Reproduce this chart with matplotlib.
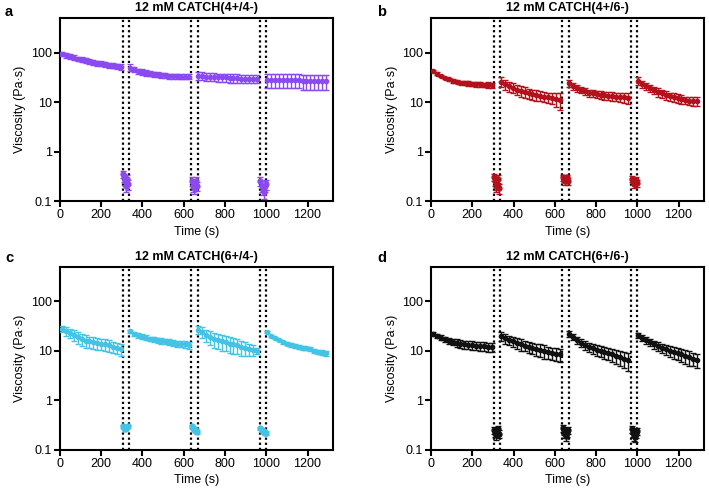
import matplotlib.pyplot as plt
import matplotlib

matplotlib.rcParams["font.family"] = ["Liberation Sans", "DejaVu Sans"]
FONT_SIZE = 9
matplotlib.rcParams.update({"font.size": FONT_SIZE})

# Time grid (s) for the high-viscosity segments and the low-viscosity bursts
t_seg1 = [10, 29, 48, 67, 86, 105, 124, 143, 162, 181, 200, 219, 238, 257, 276, 295]
t_seg2 = [340, 359, 378, 397, 416, 435, 454, 473, 492, 511, 530, 549, 568, 587, 606, 625]
t_seg3 = [670, 689, 708, 727, 746, 765, 784, 803, 822, 841, 860, 879, 898, 917, 936, 955]
t_seg4 = [1005, 1024, 1043, 1062, 1081, 1100, 1119, 1138, 1157, 1176, 1195, 1214, 1233, 1252, 1271, 1290]
t_low1 = [307, 312, 317, 322, 327, 332]
t_low2 = [639, 644, 649, 654, 659, 664]
t_low3 = [972, 977, 982, 987, 992, 997]
shear_lines = [305, 335, 637, 667, 970, 1000]

titles = ["12 mM CATCH(4+/4-)", "12 mM CATCH(4+/6-)", "12 mM CATCH(6+/4-)", "12 mM CATCH(6+/6-)"]
letters = ["a", "b", "c", "d"]
colors = ["#8a4af0", "#b3121c", "#45c3e4", "#111111"]

# Panel a
a_mean = [
    [95, 90, 85, 80, 76, 73, 70, 67, 64, 62, 60, 58, 56, 55, 53, 52],
    [50, 46, 43, 41, 39, 38, 37, 36, 35, 35, 34, 34, 34, 33, 33, 33],
    [34, 34, 33, 33, 33, 32, 32, 32, 31, 31, 31, 30, 30, 30, 30, 30],
    [28, 28, 28, 28, 28, 28, 28, 28, 28, 27, 27, 27, 27, 27, 27, 27],
]
a_err = [
    [10, 10, 9, 9, 8, 8, 8, 7, 7, 7, 7, 6, 6, 6, 6, 7],
    [8, 6, 5, 5, 5, 4, 4, 4, 4, 4, 4, 4, 4, 4, 4, 4],
    [6, 6, 6, 6, 6, 6, 6, 6, 6, 6, 6, 6, 6, 6, 6, 6],
    [9, 9, 9, 9, 9, 9, 9, 9, 9, 9, 9, 9, 9, 9, 9, 9],
]
a_low = [
    [0.35, 0.30, 0.25, 0.20, 0.28, 0.22],
    [0.25, 0.20, 0.18, 0.22, 0.25, 0.20],
    [0.25, 0.20, 0.17, 0.15, 0.20, 0.22],
]
a_low_err = [
    [0.06, 0.06, 0.05, 0.05, 0.06, 0.05],
    [0.05, 0.05, 0.04, 0.05, 0.05, 0.04],
    [0.05, 0.05, 0.04, 0.04, 0.05, 0.05],
]

# Panel b
b_mean = [
    [42, 38, 34, 31, 29, 27, 26, 25, 24.5, 24, 23.5, 23, 23, 22.5, 22.5, 22],
    [26, 23, 21, 19.5, 18, 17, 16, 15, 14.5, 14, 13.5, 13, 12.5, 12, 11.5, 11],
    [24, 21, 19, 17.5, 16.5, 15.5, 15, 14.5, 14, 13.8, 13.5, 13.3, 13, 12.8, 12.5, 12.2],
    [27, 23, 21, 19, 17.5, 16, 15, 14, 13.2, 12.5, 12, 11.5, 11, 10.8, 10.5, 10.5],
]
b_err = [
    [2, 2, 2, 2, 2, 2, 2, 2, 2.5, 2.5, 2.5, 2.5, 2.5, 2.5, 3, 3],
    [6, 5, 5, 4.5, 4, 4, 4, 3.5, 3.5, 3.5, 3, 3, 3, 3, 3.5, 4],
    [4, 3, 3, 2.5, 2.5, 2.5, 2.5, 2.5, 2.5, 2.5, 2.5, 2.5, 2.5, 2.5, 3, 3],
    [5, 4, 3.5, 3, 3, 3, 3, 3, 2.5, 2.5, 2.5, 2.5, 2, 2, 2, 2],
]
b_low = [
    [0.30, 0.25, 0.20, 0.22, 0.28, 0.18],
    [0.30, 0.28, 0.25, 0.27, 0.30, 0.25],
    [0.28, 0.25, 0.22, 0.25, 0.27, 0.23],
]
b_low_err = [
    [0.05, 0.05, 0.05, 0.05, 0.05, 0.04],
    [0.04, 0.04, 0.04, 0.04, 0.04, 0.04],
    [0.04, 0.04, 0.04, 0.04, 0.04, 0.04],
]

# Panel c
c_mean = [
    [28, 25, 23, 21, 19, 17, 16, 15.5, 15, 14.5, 14, 13.5, 13, 12, 11.5, 11],
    [25, 22, 20.5, 19.5, 18.5, 17.5, 17, 16.5, 16, 15.5, 15, 14.5, 14, 14, 13.5, 13],
    [27, 24, 21, 19, 17.5, 16.5, 15.5, 15, 14, 13.5, 13, 12, 11.5, 11, 10.5, 10],
    [24, 20, 18, 16.5, 15, 14, 13.2, 12.5, 12, 11.5, 11.2, 10.8, 10, 9.5, 9.2, 9],
]
c_err = [
    [4, 5, 5, 5, 5, 4.5, 4.5, 4, 4, 4, 3.5, 3.5, 3.5, 3, 3, 3],
    [2, 2, 2, 2, 2, 2, 2, 2, 2, 2, 2, 2, 2, 2, 2, 2],
    [5, 6, 6, 6, 6, 5.5, 5.5, 5, 5, 5, 4.5, 4, 3.5, 3, 2.5, 1.5],
    [1.5, 1, 1, 1, 1, 1, 1, 1, 1, 1, 1, 1, 1, 1, 1, 1],
]
c_low = [
    [0.30, 0.28, 0.26, 0.27, 0.29, 0.30],
    [0.30, 0.28, 0.26, 0.25, 0.24, 0.23],
    [0.27, 0.25, 0.24, 0.23, 0.22, 0.22],
]
c_low_err = [
    [0.02, 0.02, 0.02, 0.02, 0.02, 0.02],
    [0.02, 0.02, 0.02, 0.02, 0.02, 0.02],
    [0.02, 0.02, 0.02, 0.02, 0.02, 0.02],
]

# Panel d
d_mean = [
    [22, 20, 18.5, 17, 16, 15, 14.5, 14, 13.5, 13.2, 13, 12.8, 12.5, 12.3, 12, 12],
    [20, 18, 16.5, 15.5, 14.5, 13.5, 12.8, 12, 11.5, 11, 10.5, 10, 9.5, 9, 8.7, 8.5],
    [22, 19, 16.5, 14.5, 13, 12, 11.2, 10.5, 10, 9.5, 9, 8.5, 8, 7.5, 7, 6.5],
    [21, 18.5, 16.5, 15, 13.5, 12.5, 11.5, 10.8, 10, 9.5, 9, 8.5, 8, 7.5, 7, 6.5],
]
d_err = [
    [2, 2, 2, 2, 2, 2, 2.5, 2.5, 2.5, 2.5, 2.5, 2.5, 2.5, 2.5, 2.5, 2.5],
    [4, 4, 3.5, 3.5, 3.5, 3.5, 3, 3, 3, 3, 3, 3, 2.5, 2.5, 2.5, 2.5],
    [3, 2.5, 2.5, 2.5, 2.5, 2.5, 2.5, 2.5, 2.5, 2.5, 2.5, 2.5, 2.5, 2.5, 2.5, 2.5],
    [2.5, 2.5, 2.5, 2.5, 2.5, 2.5, 2.5, 2.5, 2.5, 2.5, 2.5, 2.5, 2.5, 2.5, 2, 2],
]
d_low = [
    [0.25, 0.22, 0.20, 0.23, 0.26, 0.21],
    [0.27, 0.24, 0.21, 0.19, 0.22, 0.25],
    [0.26, 0.22, 0.19, 0.18, 0.21, 0.24],
]
d_low_err = [
    [0.04, 0.04, 0.04, 0.04, 0.04, 0.04],
    [0.04, 0.04, 0.04, 0.04, 0.04, 0.04],
    [0.04, 0.04, 0.04, 0.04, 0.04, 0.04],
]

panels = [
    (a_mean, a_err, a_low, a_low_err),
    (b_mean, b_err, b_low, b_low_err),
    (c_mean, c_err, c_low, c_low_err),
    (d_mean, d_err, d_low, d_low_err),
]
high_times = [t_seg1, t_seg2, t_seg3, t_seg4]
low_times = [t_low1, t_low2, t_low3]

# axes rectangles in figure fraction: left, bottom, width, height
rects = [
    (0.0846, 0.5931, 0.3855, 0.3700),
    (0.6079, 0.5931, 0.3855, 0.3700),
    (0.0846, 0.0897, 0.3855, 0.3700),
    (0.6079, 0.0897, 0.3855, 0.3700),
]

fig = plt.figure(figsize=(7.09, 4.94), dpi=100)

for i, (mean, err, low, low_err) in enumerate(panels):
    ax = fig.add_axes(rects[i])
    col = colors[i]
    ax.set_yscale("log")
    ax.set_xlim(0, 1325)
    ax.set_ylim(0.1, 500)

    for x in shear_lines:
        ax.axvline(x, color="black", lw=1.6, ls=(0, (1, 1.3)), zorder=1)

    for t, m, e in zip(high_times, mean, err):
        ax.errorbar(t, m, yerr=e, fmt="o", ms=3, color=col, ecolor=col,
                    elinewidth=1.0, capsize=2, capthick=1.0, zorder=3)
    for t, m, e in zip(low_times, low, low_err):
        ax.errorbar(t, m, yerr=e, fmt="o", ms=3.5, color=col, ecolor=col,
                    elinewidth=1.0, capsize=2, capthick=1.0, zorder=3)

    ax.set_yticks([0.1, 1, 10, 100])
    ax.set_yticklabels(["0.1", "1", "10", "100"])
    ax.minorticks_off()
    ax.set_xticks([0, 200, 400, 600, 800, 1000, 1200])
    for s in ax.spines.values():
        s.set_linewidth(1.5)
    ax.tick_params(direction="out", length=4, width=1.5, labelsize=FONT_SIZE, pad=2)
    ax.set_xlabel("Time (s)", fontsize=FONT_SIZE, labelpad=3)
    ax.set_ylabel("Viscosity (Pa·s)", fontsize=FONT_SIZE, labelpad=3)
    ax.set_title(titles[i], fontsize=FONT_SIZE, fontweight="bold", pad=5)

    x0 = 0.007 if i % 2 == 0 else 0.532
    y0 = 0.975 if i < 2 else 0.478
    fig.text(x0, y0, letters[i], fontsize=10.5, fontweight="bold", va="center")

plt.savefig("out.png", dpi=100)
plt.close()
